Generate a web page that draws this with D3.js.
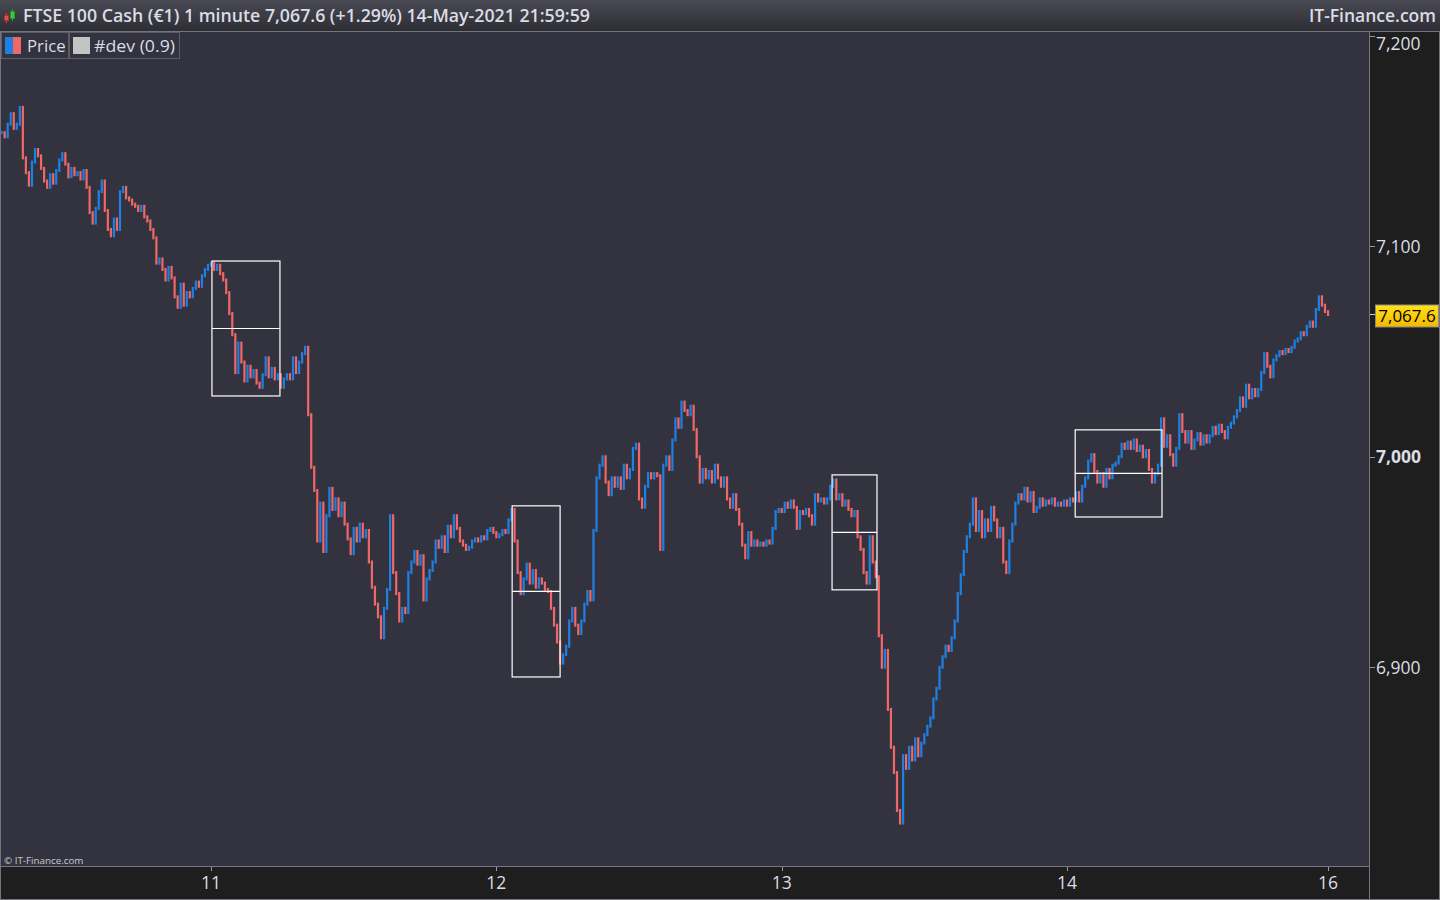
<!DOCTYPE html>
<html><head><meta charset="utf-8">
<script src="https://cdn.jsdelivr.net/npm/d3@7"></script>
<style>html,body{margin:0;padding:0;background:#1e1e1e;overflow:hidden}</style>
</head><body><svg id="c" width="1440" height="900"></svg>
<script>
// closes per session (aggregated bars)
const d10=[7154,7152,7158,7163,7156,7158,7166,7142,7135,7129,7140,7146,7143,7137,7131,7128,7134,7130,7136,7141,7144,7139,7133,7137,7134,7135,7132,7136,7128,7116,7111,7118,7126,7131,7117,7108,7105,7113,7108,7126,7128,7123,7122,7120,7119,7117,7119,7114,7112,7108,7104,7092,7094,7089,7084,7090,7085,7076,7071,7082,7072,7078,7076,7080,7083,7081,7086,7089,7091];
const d11=[7092,7089,7091,7087,7084,7078,7068,7058,7040,7054,7045,7036,7043,7038,7041,7035,7033,7039,7047,7038,7042,7037,7039,7033,7037,7039,7037,7047,7040,7045,7049,7052,7020,6995,6984,6960,6978,6955,6972,6985,6975,6980,6972,6978,6968,6961,6954,6966,6960,6968,6962,6965,6950,6938,6930,6924,6914,6928,6937,6972,6945,6935,6922,6928,6926,6945,6950,6955,6949,6953,6932,6942,6946,6950,6960,6957,6962,6955,6967,6962,6972,6966,6960,6958,6956,6957,6960,6961,6960,6962,6961,6965,6966,6964];
const d12=[6962,6963,6965,6964,6970,6975,6960,6945,6935,6942,6949,6940,6946,6938,6942,6940,6937,6936,6928,6920,6912,6902,6906,6910,6922,6928,6920,6916,6922,6930,6936,6932,6965,6990,6996,7000,6988,6982,6990,6986,6990,6985,6996,6990,6994,7004,7006,6980,6976,6986,6992,6990,6992,6991,6956,6996,7000,6994,7008,7018,7014,7026,7022,7020,7024,7013,7000,6988,6994,6990,6993,6988,6996,6990,6986,6990,6980,6976,6982,6975,6968,6958,6952,6964,6958,6960,6958,6959,6958,6960,6959,6966,6974,6975];
const d13=[6974,6978,6976,6979,6976,6966,6974,6973,6975,6972,6968,6982,6979,6980,6978,6980,6986,6989,6980,6982,6977,6979,6975,6972,6974,6962,6956,6945,6940,6962,6950,6943,6915,6900,6908,6880,6862,6850,6832,6826,6858,6852,6862,6856,6866,6858,6864,6868,6872,6876,6885,6890,6900,6905,6910,6908,6914,6922,6935,6944,6955,6962,6968,6980,6965,6974,6962,6970,6965,6976,6970,6962,6966,6950,6945,6960,6968,6978,6982,6980,6985,6979,6983,6974,6976,6980,6977,6979,6978,6980,6977,6978,6977,6979];
const d14=[6977,6980,6979,6983,6979,6986,6990,6998,7001,6993,6988,6992,6986,6994,6990,6996,6997,7000,7006,7004,7007,7004,7008,7003,7005,7000,7003,6994,6988,6992,6996,7018,7005,7010,7001,6996,7004,7020,7012,7007,7012,7004,7008,7011,7006,7010,7007,7010,7014,7011,7015,7012,7009,7014,7016,7019,7022,7028,7024,7034,7028,7032,7029,7032,7040,7049,7043,7038,7046,7048,7050,7049,7051,7050,7052,7055,7056,7059,7058,7062,7064,7062,7070,7076,7072,7069,7067.6];
const sessions=[d10,d11,d12,d13,d14];
const dayLabels=["11","12","13","14","16"];
const priceTicks=[6900,7000,7100,7200];
const lastPrice=7067.6;
// #dev boxes (bar index start/end, high, low)
const devStart=[69.3,168.2,273.6,353.7];
const devEnd=[91.7,184.0,288.4,382.3];
const devHigh=[7093.0,6976.7,6991.4,7012.8];
const devLow=[7028.9,6895.4,6936.8,6971.4];

const closes=sessions.flat();
const dayStarts=[];{let c=0;sessions.forEach((s,k)=>{c+=s.length;dayStarts.push(c);});}

const svg=d3.select("#c");
const plotL=0,plotR=1369,plotT=32,plotB=866;
const C={bg:"#33333f",axis:"#1e1e1e",blue:"#1f80e4",red:"#f06767",text:"#dcdce4",line:"#75757d"};
const F="'Open Sans',sans-serif";

const x=d3.scaleLinear().domain([-0.53,450.5]).range([plotL,plotR]);
const y=d3.scaleLinear().domain([6805.6,7201.8]).range([plotB,plotT]);

const defs=svg.append("defs");
const hg=defs.append("linearGradient").attr("id","hg").attr("x1",0).attr("x2",0).attr("y1",0).attr("y2",1);
hg.append("stop").attr("offset","0%").attr("stop-color","#4a4a54");
hg.append("stop").attr("offset","100%").attr("stop-color","#2d2d35");
const yg=defs.append("linearGradient").attr("id","yg").attr("x1",0).attr("x2",0).attr("y1",0).attr("y2",1);
yg.append("stop").attr("offset","0%").attr("stop-color","#ffe21a");
yg.append("stop").attr("offset","100%").attr("stop-color","#f2b800");
defs.append("clipPath").attr("id","pc").append("rect").attr("x",plotL).attr("y",plotT).attr("width",plotR-plotL).attr("height",plotB-plotT);

// backgrounds
svg.append("rect").attr("width",1440).attr("height",900).attr("fill",C.axis);
svg.append("rect").attr("x",plotL).attr("y",plotT).attr("width",plotR-plotL).attr("height",plotB-plotT).attr("fill",C.bg);
svg.append("rect").attr("x",0).attr("y",0).attr("width",1440).attr("height",31).attr("fill","url(#hg)");
svg.append("line").attr("x1",0).attr("x2",1440).attr("y1",31.5).attr("y2",31.5).attr("stroke",C.line);
svg.append("line").attr("x1",plotR+0.5).attr("x2",plotR+0.5).attr("y1",32).attr("y2",900).attr("stroke",C.line);
svg.append("line").attr("x1",0).attr("x2",plotR+1).attr("y1",plotB+0.5).attr("y2",plotB+0.5).attr("stroke",C.line);
svg.append("line").attr("x1",0.5).attr("x2",0.5).attr("y1",32).attr("y2",900).attr("stroke",C.line);
svg.append("line").attr("x1",0).attr("x2",1440).attr("y1",899.5).attr("y2",899.5).attr("stroke",C.line);
svg.append("line").attr("x1",1439.5).attr("x2",1439.5).attr("y1",32).attr("y2",900).attr("stroke",C.line);

// price bars
const g=svg.append("g").attr("clip-path","url(#pc)");
g.selectAll("rect.bar").data(closes).join("rect").attr("class","bar")
  .attr("x",(d,i)=>x(i)-1.1).attr("width",2.2)
  .attr("y",(d,i)=>{const p=i?closes[i-1]:d;return y(Math.max(p,d))-1.5;})
  .attr("height",(d,i)=>{const p=i?closes[i-1]:d;return Math.abs(y(p)-y(d))+3;})
  .attr("fill",(d,i)=>{const p=i?closes[i-1]:d;return d>=p?C.blue:C.red;});

// dev boxes
const boxes=devStart.map((s,k)=>({s,e:devEnd[k],h:devHigh[k],l:devLow[k]}));
const bg=g.append("g").attr("fill","none").attr("stroke","#ffffff").attr("stroke-width",1.2);
bg.selectAll("rect").data(boxes).join("rect")
  .attr("x",d=>x(d.s)).attr("y",d=>y(d.h)).attr("width",d=>x(d.e)-x(d.s)).attr("height",d=>y(d.l)-y(d.h));
bg.selectAll("line").data(boxes).join("line")
  .attr("x1",d=>x(d.s)).attr("x2",d=>x(d.e)).attr("y1",d=>y((d.h+d.l)/2)).attr("y2",d=>y((d.h+d.l)/2));

// right axis
const ra=svg.append("g");
priceTicks.forEach(v=>{
  const ty=y(v);
  ra.append("line").attr("x1",plotR+1).attr("x2",plotR+6).attr("y1",Math.round(ty)+0.5).attr("y2",Math.round(ty)+0.5).attr("stroke","#9a9aa0");
  ra.append("text").attr("x",1376).attr("y",Math.max(ty,44)).attr("dy","0.36em")
    .attr("font-family",F).attr("font-size",17.5).attr("font-weight",v===7000?700:400)
    .attr("fill",C.text).text(d3.format(",")(v));
});
const ly=y(lastPrice);
ra.append("line").attr("x1",plotR+1).attr("x2",1376).attr("y1",Math.round(ly)+0.5).attr("y2",Math.round(ly)+0.5).attr("stroke","#cccccc");
ra.append("rect").attr("x",1375.5).attr("y",ly-9.5).attr("width",63).attr("height",22).attr("fill","url(#yg)").attr("stroke","#8a8a8a");
ra.append("text").attr("x",1407).attr("y",ly+1.5).attr("dy","0.36em").attr("text-anchor","middle")
  .attr("font-family",F).attr("font-size",17).attr("fill","#000").text(d3.format(",.1f")(lastPrice));

// bottom axis
const ba=svg.append("g");
dayStarts.forEach((ix,k)=>{
  const tx=x(k===dayStarts.length-1?ix-1:ix);
  ba.append("line").attr("x1",Math.round(tx)+0.5).attr("x2",Math.round(tx)+0.5).attr("y1",plotB+1).attr("y2",plotB+5).attr("stroke","#9a9aa0");
  ba.append("text").attr("x",tx).attr("y",883).attr("dy","0.36em").attr("text-anchor","middle")
    .attr("font-family",F).attr("font-size",17.5).attr("fill",C.text).text(dayLabels[k]);
});

// header
const ic=svg.append("g");
ic.append("line").attr("x1",6.5).attr("x2",6.5).attr("y1",13).attr("y2",23).attr("stroke","#c44");
ic.append("rect").attr("x",4.5).attr("y",15.5).attr("width",4).attr("height",5).attr("fill","#e05050").attr("stroke","#a33");
ic.append("line").attr("x1",12.5).attr("x2",12.5).attr("y1",9).attr("y2",21).attr("stroke","#3a3");
ic.append("rect").attr("x",10.5).attr("y",11.5).attr("width",4).attr("height",7).attr("fill","#3cc83c").attr("stroke","#292");
svg.append("text").attr("x",23).attr("y",16).attr("dy","0.36em")
  .attr("font-family",F).attr("font-size",17.5).attr("font-weight",600).attr("fill",C.text)
  .attr("textLength",567).attr("lengthAdjust","spacingAndGlyphs")
  .text("FTSE 100 Cash (€1) 1 minute 7,067.6 (+1.29%) 14-May-2021 21:59:59");
svg.append("text").attr("x",1436).attr("y",16).attr("dy","0.36em").attr("text-anchor","end")
  .attr("font-family",F).attr("font-size",17.5).attr("font-weight",600).attr("fill",C.text)
  .text("IT-Finance.com");

// legend
const lg=svg.append("g");
lg.append("rect").attr("x",1.5).attr("y",32.5).attr("width",67).attr("height",26).attr("fill",C.bg).attr("stroke","#5c5c66");
lg.append("rect").attr("x",69.5).attr("y",32.5).attr("width",110).attr("height",26).attr("fill",C.bg).attr("stroke","#5c5c66");
lg.append("rect").attr("x",5).attr("y",37).attr("width",8).attr("height",17).attr("fill",C.blue);
lg.append("rect").attr("x",13).attr("y",37).attr("width",8).attr("height",17).attr("fill",C.red);
lg.append("text").attr("x",27).attr("y",45.5).attr("dy","0.36em").attr("font-family",F).attr("font-size",16.8).attr("fill",C.text).text("Price");
lg.append("rect").attr("x",73).attr("y",37).attr("width",17).attr("height",17).attr("fill","#c4c4c4");
lg.append("text").attr("x",94).attr("y",45.5).attr("dy","0.36em").attr("font-family",F).attr("font-size",16.8).attr("fill",C.text)
  .attr("textLength",81).attr("lengthAdjust","spacingAndGlyphs").text("#dev (0.9)");

svg.append("text").attr("x",4).attr("y",864).attr("font-family",F).attr("font-size",9.8).attr("fill","#c8c8d0").text("© IT-Finance.com");
</script></body></html>
